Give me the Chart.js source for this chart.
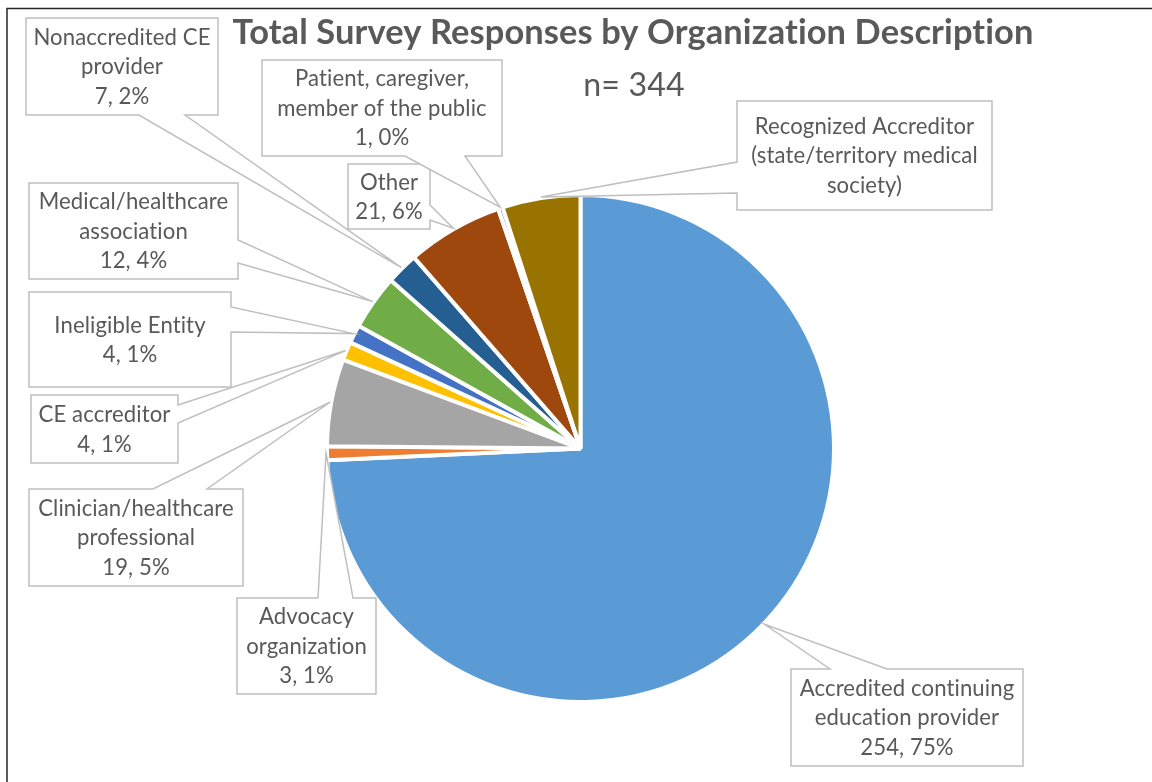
<!DOCTYPE html>
<html>
<head>
<meta charset="utf-8">
<script src="https://cdn.jsdelivr.net/npm/chart.js@4.4.0/dist/chart.umd.min.js"></script>
<style>
    html, body { margin: 0; padding: 0; background: #fff; }
    #wrap { position: relative; width: 1152px; height: 782px; }
</style>
</head>
<body>
<div id="wrap"><canvas id="myChart" width="1152" height="782"></canvas></div>
<script>
const categories = [
    'Accredited continuing\neducation provider',
    'Advocacy\norganization',
    'Clinician/healthcare\nprofessional',
    'CE accreditor',
    'Ineligible Entity',
    'Medical/healthcare\nassociation',
    'Nonaccredited CE\nprovider',
    'Other',
    'Patient, caregiver,\nmember of the public',
    'Recognized Accreditor\n(state/territory medical\nsociety)'
];
const responses = [254, 3, 19, 4, 4, 12, 7, 21, 1, 17];
const percentLabels = ['75%', '1%', '5%', '1%', '1%', '4%', '2%', '6%', '0%', ''];
const sliceColors = ['#5B9BD5', '#ED7D31', '#A5A5A5', '#FFC000', '#4472C4',
    '#70AD47', '#255E91', '#9E480E', '#636363', '#997300'];
const titleText = 'Total Survey Responses by Organization Description';
const subtitleText = 'n= 344';

// callout boxes: [x, y, w, h], side the pointer leaves from, pointer base along that side
const callouts = [
    { box: [791, 669, 232, 97], side: 'top', base: [830, 887], showValue: true },
    { box: [237, 598, 139, 96], side: 'top', base: [318, 353], showValue: true },
    { box: [29, 489, 214, 97], side: 'top', base: [153, 207], showValue: true },
    { box: [31, 395, 147, 68], side: 'right', base: [405, 423], showValue: true },
    { box: [29, 292, 202, 95], side: 'right', base: [307, 332], showValue: true },
    { box: [29, 183, 209, 96], side: 'right', base: [240, 263], showValue: true },
    { box: [26, 18, 192, 97], side: 'bottom', base: [139, 185], showValue: true },
    { box: [348, 164, 82, 65], side: 'right', base: [205, 220], showValue: true },
    { box: [262, 60, 240, 96], side: 'bottom', base: [405, 465], showValue: true },
    { box: [737, 101, 255, 109], side: 'left', base: [162, 193], showValue: false }
];

const FONT = 'Lato';
const TEXT_COLOR = '#595959';

function fitSize(ctx, text, weight, targetW) {
    ctx.font = weight + ' 100px ' + FONT;
    return 100 * targetW / ctx.measureText(text).width;
}

function calloutPath(ctx, b, side, base, tip) {
    const [x, y, w, h] = b;
    const r = x + w, btm = y + h;
    ctx.beginPath();
    ctx.moveTo(x, y);
    if (side === 'top') { ctx.lineTo(base[0], y); ctx.lineTo(tip.x, tip.y); ctx.lineTo(base[1], y); }
    ctx.lineTo(r, y);
    if (side === 'right') { ctx.lineTo(r, base[0]); ctx.lineTo(tip.x, tip.y); ctx.lineTo(r, base[1]); }
    ctx.lineTo(r, btm);
    if (side === 'bottom') { ctx.lineTo(base[1], btm); ctx.lineTo(tip.x, tip.y); ctx.lineTo(base[0], btm); }
    ctx.lineTo(x, btm);
    if (side === 'left') { ctx.lineTo(x, base[1]); ctx.lineTo(tip.x, tip.y); ctx.lineTo(x, base[0]); }
    ctx.closePath();
}

const decorations = {
    id: 'decorations',
    afterDatasetsDraw(chart) {
        const ctx = chart.ctx;
        const arcs = chart.getDatasetMeta(0).data;
        ctx.save();

        // frame
        ctx.strokeStyle = '#262626';
        ctx.lineWidth = 1.5;
        ctx.beginPath();
        ctx.moveTo(7, 782);
        ctx.lineTo(7, 8.5);
        ctx.lineTo(1152, 8.5);
        ctx.stroke();

        // letter spacing keeps Lato from using its "ti" ligature
        ctx.letterSpacing = '0.1px';

        // title + n
        ctx.fillStyle = TEXT_COLOR;
        ctx.textAlign = 'center';
        ctx.textBaseline = 'alphabetic';
        const ts = fitSize(ctx, titleText, 'bold', 798);
        ctx.font = 'bold ' + ts + 'px ' + FONT;
        ctx.fillText(titleText, 633, 44);
        const ns = fitSize(ctx, subtitleText, 'normal', 101);
        ctx.font = ns + 'px ' + FONT;
        ctx.fillText(subtitleText, 634, 96);

        // callouts
        const ls = fitSize(ctx, 'Accredited continuing', 'normal', 213);
        const lh = 29.5;
        arcs.forEach((arc, i) => {
            const c = callouts[i];
            const mid = (arc.startAngle + arc.endAngle) / 2;
            const rr = arc.outerRadius + 1;
            const tip = { x: arc.x + Math.cos(mid) * rr, y: arc.y + Math.sin(mid) * rr };
            calloutPath(ctx, c.box, c.side, c.base, tip);
            ctx.fillStyle = '#fff';
            ctx.fill();
            ctx.strokeStyle = '#BFBFBF';
            ctx.lineWidth = 1.5;
            ctx.stroke();

            const lines = categories[i].split('\n');
            if (c.showValue) lines.push(responses[i] + ', ' + percentLabels[i]);
            const [bx, by, bw, bh] = c.box;
            const cx = bx + bw / 2, cy = by + bh / 2;
            ctx.fillStyle = TEXT_COLOR;
            ctx.font = ls + 'px ' + FONT;
            lines.forEach((t, k) => {
                const yy = cy + (k - (lines.length - 1) / 2) * lh + ls * 0.36;
                ctx.fillText(t, cx, yy);
            });
        });
        ctx.restore();
    }
};

new Chart(document.getElementById('myChart'), {
    type: 'pie',
    plugins: [decorations],
    data: {
        labels: categories,
        datasets: [{
            data: responses,
            backgroundColor: sliceColors,
            borderColor: '#ffffff',
            borderWidth: 4
        }]
    },
    options: {
        responsive: false,
        animation: false,
        radius: 253.5,
        layout: { padding: { left: 329, right: 320, top: 197, bottom: 82 } },
        plugins: {
            legend: { display: false },
            tooltip: { enabled: false },
            title: { display: false }
        }
    }
});
</script>
</body>
</html>
